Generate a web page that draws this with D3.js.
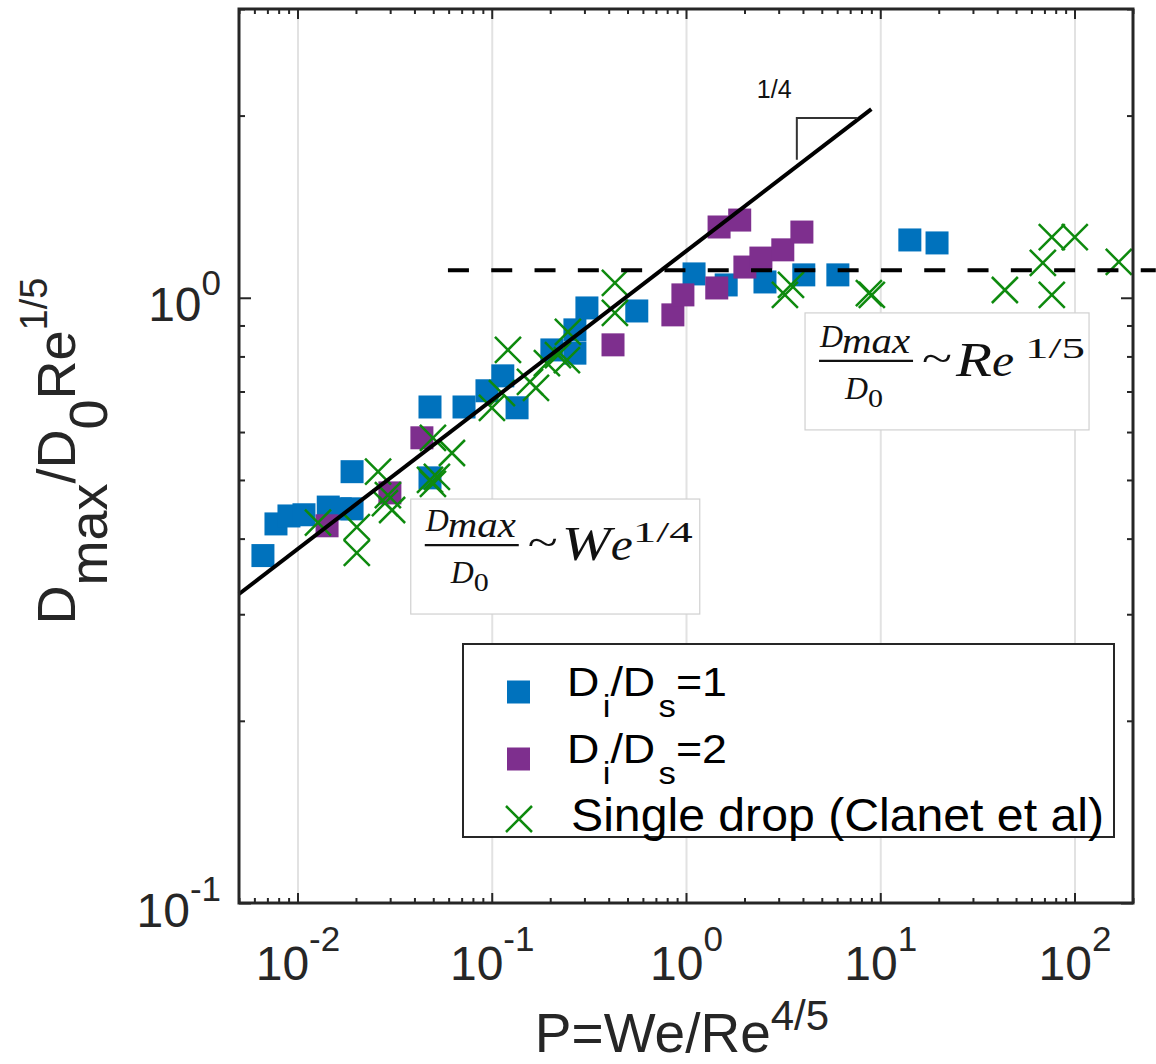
<!DOCTYPE html>
<html>
<head>
<meta charset="utf-8">
<script src="https://cdnjs.cloudflare.com/ajax/libs/d3/7.8.5/d3.min.js"></script>
<style>
  body { margin: 0; background: #fff; }
</style>
</head>
<body>
<div id="chart"></div>
<script>
// values (P = We/Re^(4/5), V = Dmax/D0 Re^(1/5))
var blueP = [0.00664, 0.00775, 0.00904, 0.0108, 0.0144, 0.0166, 0.0191, 0.0191, 0.0481, 0.0481,
             0.072, 0.0945, 0.114, 0.135, 0.204, 0.268, 0.268, 0.309, 0.558, 1.10,
             1.61, 2.55, 4.04, 6.05, 14.2, 19.6];
var blueV = [0.375, 0.423, 0.436, 0.438, 0.451, 0.448, 0.448, 0.516, 0.66, 0.504,
             0.66, 0.702, 0.743, 0.658, 0.82, 0.885, 0.81, 0.962, 0.951, 1.095,
             1.05, 1.062, 1.091, 1.091, 1.246, 1.232];

var purpleP = [0.0142, 0.0299, 0.0437, 0.421, 0.856, 0.964, 1.44, 1.48, 1.89, 2.01, 2.43, 3.15, 3.95];
var purpleV = [0.420, 0.476, 0.587, 0.836, 0.937, 1.011, 1.038, 1.309, 1.344, 1.124, 1.163, 1.200, 1.284];

var greenP = [0.01275, 0.0202, 0.0202, 0.0260, 0.0282, 0.0307, 0.0292, 0.0481, 0.0522, 0.0498,
              0.0498, 0.0624, 0.1002, 0.1128, 0.1212, 0.1573, 0.1689, 0.1923, 0.2192, 0.2438,
              0.2466, 0.4305, 0.4305, 3.23, 3.47, 8.74, 9.05, 43.8, 68.7, 76.4,
              100.3, 76.4, 169];
var greenV = [0.425, 0.418, 0.379, 0.516, 0.458, 0.446, 0.472, 0.500, 0.506, 0.4925,
              0.587, 0.554, 0.658, 0.696, 0.820, 0.726, 0.710, 0.780, 0.804, 0.789,
              0.878, 1.058, 0.944, 1.011, 1.05, 1.018, 1.011, 1.03, 1.142, 1.26,
              1.26, 1.011, 1.146];

// guide lines
var fitP = [0.005, 9.0];
var fitV = [0.324, 2.05];
var plateauP = [0.0595, 262];
var plateauV = [1.11, 1.11];
var triP = [3.72, 7.6];
var triV = [1.69, 1.982];

var xTicks = [0.01, 0.1, 1, 10, 100];
var xTickExp = ["-2", "-1", "0", "1", "2"];
var yTicks = [0.1, 1];
var yTickExp = ["-1", "0"];

var seriesNames = ["1", "2", "Single drop (Clanet et al)"];
var colors = ["#0072BD", "#7E2F8E", "#0e8a0e"];

var svgWidth = 1156;
var svgHeight = 1064;
var margin = { top: 9, right: 23, bottom: 161, left: 239 };
var width = svgWidth - margin.left - margin.right;
var height = svgHeight - margin.top - margin.bottom;
var axisColor = "#262626";
var sans = "'Liberation Sans', Arial, Helvetica, sans-serif";
var serif = "'Liberation Serif', 'Times New Roman', serif";

var svg = d3.select("#chart").append("svg")
  .attr("width", svgWidth)
  .attr("height", svgHeight);

var chartGroup = svg.append("g")
  .attr("transform", `translate(${margin.left}, ${margin.top})`);

var x = d3.scaleLog().domain([0.005, 200]).range([0, width]);
var y = d3.scaleLog().domain([0.1, 3]).range([height, 0]);

function zip(a, b) { return a.map((v, i) => ({ p: v, v: b[i] })); }

// grid (vertical only, at decades)
var grid = chartGroup.append("g")
  .attr("transform", `translate(0, ${height})`)
  .call(d3.axisBottom(x).tickValues(xTicks).tickSize(-height).tickFormat(""));
grid.select(".domain").remove();
grid.selectAll(".tick line").attr("stroke", "#e2e2e2").attr("stroke-width", 2);

// ticks on all four sides, pointing inward
var xMinor = x.ticks().filter(t => xTicks.indexOf(t) < 0);
var yMinor = y.ticks().filter(t => yTicks.indexOf(t) < 0);

function styleAxis(g) {
  g.select(".domain").remove();
  g.attr("color", axisColor);
  g.selectAll(".tick line").attr("stroke-width", 2);
}

chartGroup.append("g").attr("transform", `translate(0, ${height})`)
  .call(d3.axisBottom(x).tickValues(xMinor).tickSize(-5).tickFormat("")).call(styleAxis);
chartGroup.append("g")
  .call(d3.axisTop(x).tickValues(xMinor).tickSize(-5).tickFormat("")).call(styleAxis);
chartGroup.append("g")
  .call(d3.axisTop(x).tickValues(xTicks).tickSize(-10).tickFormat("")).call(styleAxis);
chartGroup.append("g")
  .call(d3.axisLeft(y).tickValues(yMinor).tickSize(-6).tickFormat("")).call(styleAxis);
chartGroup.append("g").attr("transform", `translate(${width}, 0)`)
  .call(d3.axisRight(y).tickValues(yMinor).tickSize(-6).tickFormat("")).call(styleAxis);
chartGroup.append("g").attr("transform", `translate(${width}, 0)`)
  .call(d3.axisRight(y).tickValues(yTicks).tickSize(-12).tickFormat("")).call(styleAxis);

function powerLabels(sel, exps, supDy) {
  sel.each(function(d, i) {
    var t = d3.select(this);
    t.text(null).attr("dy", null);
    t.append("tspan").text("10");
    t.append("tspan").attr("font-size", 35).attr("dy", supDy).text(exps[i]);
  });
}

var xAxis = chartGroup.append("g").attr("transform", `translate(0, ${height})`)
  .call(d3.axisBottom(x).tickValues(xTicks).tickSize(-10).tickSizeOuter(0));
styleAxis(xAxis);
xAxis.attr("font-family", sans).attr("font-size", 48);
xAxis.selectAll(".tick text").attr("y", 77).attr("fill", axisColor).call(powerLabels, xTickExp, -29);

var yAxis = chartGroup.append("g")
  .call(d3.axisLeft(y).tickValues(yTicks).tickSize(-12).tickSizeOuter(0));
styleAxis(yAxis);
yAxis.attr("font-family", sans).attr("font-size", 48);
yAxis.selectAll(".tick text").attr("x", -18).attr("y", 23).attr("fill", axisColor).call(powerLabels, yTickExp, -26);

// markers
var sq = 23;
chartGroup.append("g").selectAll("rect")
  .data(zip(blueP, blueV)).enter().append("rect")
  .attr("x", d => x(d.p) - sq / 2).attr("y", d => y(d.v) - sq / 2)
  .attr("width", sq).attr("height", sq).attr("fill", colors[0]);

chartGroup.append("g").selectAll("rect")
  .data(zip(purpleP, purpleV)).enter().append("rect")
  .attr("x", d => x(d.p) - sq / 2).attr("y", d => y(d.v) - sq / 2)
  .attr("width", sq).attr("height", sq).attr("fill", colors[1]);

var cross = "M-13,-13L13,13M-13,13L13,-13";
chartGroup.append("g").selectAll("path")
  .data(zip(greenP, greenV)).enter().append("path")
  .attr("transform", d => `translate(${x(d.p)}, ${y(d.v)})`)
  .attr("d", cross).attr("stroke", colors[2]).attr("stroke-width", 2.5).attr("fill", "none");

// fit lines
var line = d3.line().x(d => x(d.p)).y(d => y(d.v));
chartGroup.append("path").datum(zip(fitP, fitV))
  .attr("d", line).attr("stroke", "#000").attr("stroke-width", 4).attr("fill", "none");
chartGroup.append("path").datum(zip(plateauP, plateauV))
  .attr("d", line).attr("stroke", "#000").attr("stroke-width", 4)
  .attr("stroke-dasharray", "21,22.3").attr("fill", "none");

// slope triangle
chartGroup.append("path")
  .attr("d", `M${x(triP[0])},${y(triV[0])}L${x(triP[0])},${y(triV[1])}L${x(triP[1])},${y(triV[1])}`)
  .attr("stroke", "#333").attr("stroke-width", 2).attr("fill", "none");
chartGroup.append("text")
  .attr("x", x(triP[0]) - 40).attr("y", y(triV[1]) - 20)
  .attr("font-family", sans).attr("font-size", 25).attr("fill", "#111")
  .text("1/4");

// equation boxes
function piece(g, s, px, py, fs, w, italic) {
  var t = g.append("text").attr("x", px).attr("y", py)
    .attr("font-family", serif).attr("font-size", fs).attr("fill", "#111").text(s);
  if (italic) t.attr("font-style", "italic");
  if (w) t.attr("textLength", w).attr("lengthAdjust", "spacingAndGlyphs");
  return t;
}

function eqBox(p, v, w, h, tail, sup, tailW, supX, dyBase) {
  var g = chartGroup.append("g").attr("transform", `translate(${x(p)}, ${y(v)})`);
  g.append("rect").attr("width", w).attr("height", h)
    .attr("fill", "#fff").attr("stroke", "#d0d0d0").attr("stroke-width", 1.2);
  piece(g, "D", 15, 32 + dyBase, 31, 23, true);
  piece(g, "max", 37, 38 + dyBase, 36, 68, true);
  g.append("line").attr("x1", 14).attr("x2", 108).attr("y1", 46 + dyBase).attr("y2", 46 + dyBase)
    .attr("stroke", "#111").attr("stroke-width", 2.2);
  piece(g, "D", 40, 84 + dyBase, 31, 23, true);
  piece(g, "0", 63, 92 + dyBase, 25, 15, false);
  piece(g, "~", 117, 57 + dyBase, 42, 30, false);
  piece(g, tail[0], 151, 61 + dyBase, 49, tailW, true);
  piece(g, "e", 151 + tailW, 61 + dyBase, 46, 22, true);
  piece(g, sup, supX, 43 + dyBase, 29, 60, false);
  return g;
}

eqBox(0.0383, 0.465, 289, 115, "W", "1/4", 49, 222, 0);
eqBox(4.10, 0.944, 284, 117, "R", "1/5", 36, 220, 2);

// legend
var legend = chartGroup.append("g").attr("transform", "translate(224, 635)");
legend.append("rect").attr("width", 651).attr("height", 193)
  .attr("fill", "#fff").attr("stroke", axisColor).attr("stroke-width", 2);
var rowY = [48, 115, 175];
legend.append("rect").attr("x", 44).attr("y", rowY[0] - 11.5).attr("width", sq).attr("height", sq).attr("fill", colors[0]);
legend.append("rect").attr("x", 44).attr("y", rowY[1] - 11.5).attr("width", sq).attr("height", sq).attr("fill", colors[1]);
legend.append("path").attr("transform", `translate(56, ${rowY[2]})`)
  .attr("d", cross).attr("stroke", colors[2]).attr("stroke-width", 2.5).attr("fill", "none");

[0, 1].forEach(function(i) {
  var t = legend.append("text")
    .attr("transform", `translate(104, ${rowY[i] + 4}) scale(1.12, 1)`)
    .attr("font-family", sans).attr("font-size", 40).attr("fill", "#000");
  t.append("tspan").text("D");
  t.append("tspan").attr("dy", 21).attr("font-size", 31).attr("dx", 3).text("i");
  t.append("tspan").attr("dy", -21).text("/D");
  t.append("tspan").attr("dy", 21).attr("font-size", 31).attr("dx", 3).text("s");
  t.append("tspan").attr("dy", -21).text("=" + seriesNames[i]);
});
legend.append("text").attr("x", 108).attr("y", rowY[2] + 12)
  .attr("font-family", sans).attr("font-size", 47).attr("fill", "#000")
  .attr("textLength", 533).attr("lengthAdjust", "spacingAndGlyphs")
  .text(seriesNames[2]);

// frame
chartGroup.append("rect").attr("width", width).attr("height", height)
  .attr("fill", "none").attr("stroke", axisColor).attr("stroke-width", 3);

// axis titles
var xt = svg.append("text")
  .attr("x", margin.left + width / 2 - 4).attr("y", 1052)
  .attr("text-anchor", "middle").attr("font-family", sans).attr("font-size", 55).attr("fill", axisColor);
xt.append("tspan").text("P=We/Re");
xt.append("tspan").attr("dy", -22).attr("font-size", 42).text("4/5");

var yt = svg.append("text")
  .attr("transform", "translate(75, 451) rotate(-90)")
  .attr("text-anchor", "middle").attr("font-family", sans).attr("font-size", 54).attr("fill", axisColor);
yt.append("tspan").text("D");
yt.append("tspan").attr("dy", 32).text("max");
yt.append("tspan").attr("dy", -32).text("/D");
yt.append("tspan").attr("dy", 32).text("0");
yt.append("tspan").attr("dy", -32).text("Re");
yt.append("tspan").attr("dy", -28).attr("font-size", 38).text("1/5");
</script>
</body>
</html>
